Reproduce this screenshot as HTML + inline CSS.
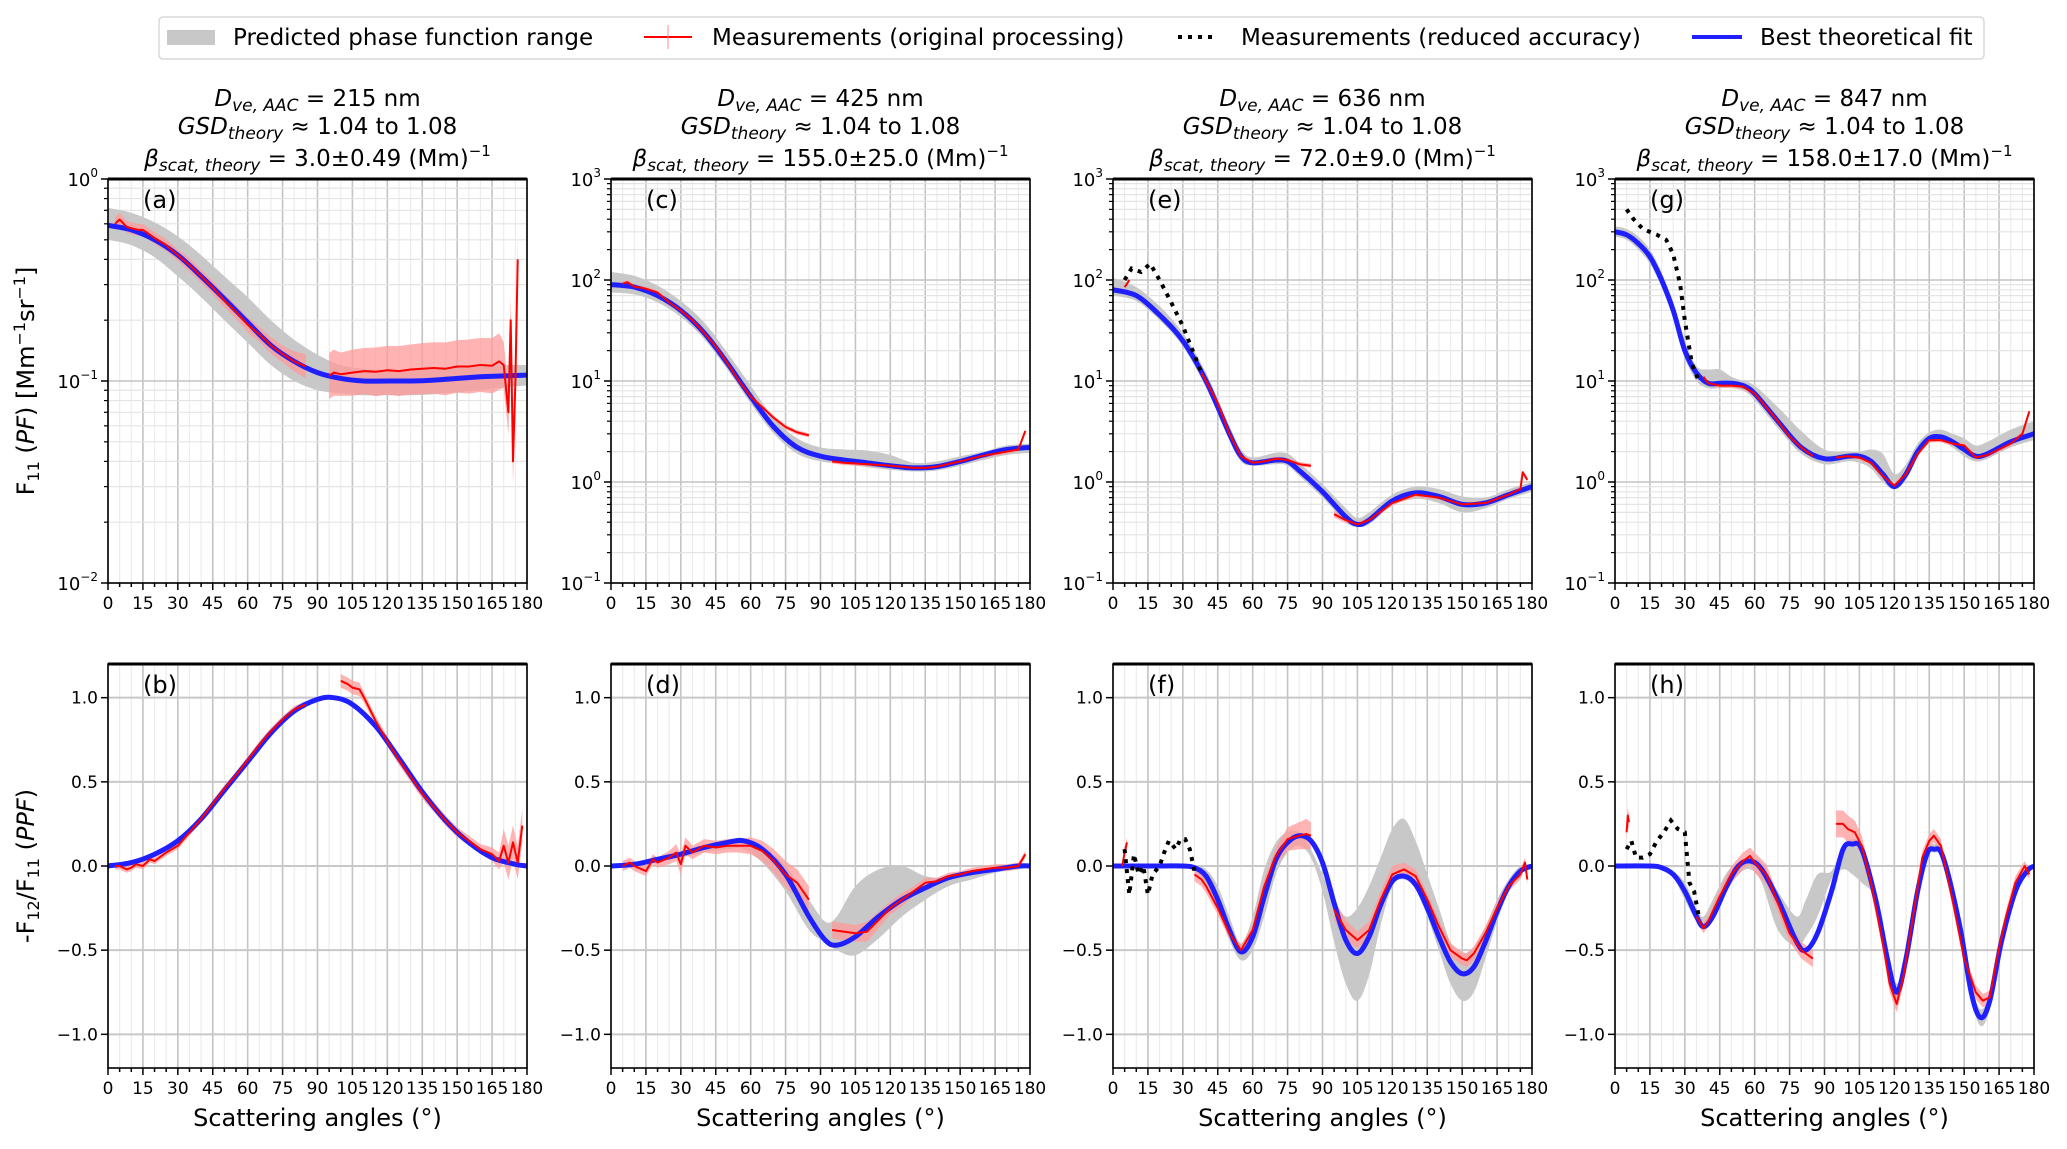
<!DOCTYPE html>
<html><head><meta charset="utf-8">
<style>
html,body{margin:0;padding:0;background:#fff;}
svg{display:block;font-family:"DejaVu Sans","Liberation Sans",sans-serif;}
</style></head>
<body>
<svg id="fig" width="2067" height="1149" viewBox="0 0 2067 1149" xmlns="http://www.w3.org/2000/svg">
<g>
<rect x="159" y="17" width="1825" height="42" rx="4" fill="#fff" stroke="#d8d8d8" stroke-width="1.5"/>
<rect x="167" y="30" width="48" height="15" fill="#c8c8c8"/>
<text x="233" y="45" font-size="23">Predicted phase function range</text>
<line x1="644" y1="37" x2="692" y2="37" stroke="#f00" stroke-width="2"/>
<line x1="668" y1="25" x2="668" y2="49" stroke="#f88" stroke-width="1"/>
<text x="712" y="45" font-size="23">Measurements (original processing)</text>
<line x1="1178" y1="37" x2="1217" y2="37" stroke="#000" stroke-width="4" stroke-dasharray="4,6"/>
<text x="1241" y="45" font-size="23">Measurements (reduced accuracy)</text>
<line x1="1692" y1="37" x2="1742" y2="37" stroke="#1f1fff" stroke-width="4"/>
<text x="1760" y="45" font-size="23">Best theoretical fit</text>
</g>
<text transform="translate(34,381) rotate(-90)" text-anchor="middle" font-size="24">F<tspan font-size="16" dy="5">11</tspan><tspan dy="-5"> (</tspan><tspan font-style="italic">PF</tspan>) [Mm<tspan font-size="16" dy="-9">−1</tspan><tspan dy="9">sr</tspan><tspan font-size="16" dy="-9">−1</tspan><tspan dy="9">]</tspan></text>
<text transform="translate(34,866) rotate(-90)" text-anchor="middle" font-size="24">-F<tspan font-size="16" dy="5">12</tspan><tspan dy="-5">/F</tspan><tspan font-size="16" dy="5">11</tspan><tspan dy="-5"> (</tspan><tspan font-style="italic">PPF</tspan>)</text>
</svg>
<script>
// ---------- data ----------
const panelLetters = ["a","c","e","g","b","d","f","h"];
const titleD = ["215","425","636","847"];
const titleBeta = ["3.0±0.49","155.0±25.0","72.0±9.0","158.0±17.0"];
const topYMin = [0.01,0.1,0.1,0.1];
const topYMax = [1,1000,1000,1000];
const xTicks = [0,15,30,45,60,75,90,105,120,135,150,165,180];
const linYTicks = [-1.0,-0.5,0.0,0.5,1.0];

// panel (a)
const angA = [0,10,20,30,40,50,60,70,80,90,100,110,120,130,140,150,160,170,180];
const fitA = [0.59,0.56,0.50,0.42,0.33,0.255,0.195,0.15,0.125,0.11,0.103,0.1,0.1,0.1,0.101,0.103,0.105,0.106,0.107];
const loA = [0.5,0.47,0.41,0.33,0.26,0.2,0.155,0.12,0.1,0.09,0.087,0.085,0.085,0.085,0.086,0.088,0.09,0.093,0.095];
const hiA = [0.72,0.68,0.61,0.52,0.42,0.33,0.26,0.2,0.16,0.135,0.12,0.115,0.113,0.113,0.114,0.116,0.118,0.12,0.12];
const measA1Ang = [3,5,8,10,13,15,18,20,25,30,35,40,45,50,55,60,65,70,75,80,85];
const measA1Val = [0.6,0.63,0.58,0.57,0.56,0.56,0.53,0.51,0.47,0.42,0.375,0.33,0.29,0.25,0.22,0.19,0.17,0.15,0.136,0.125,0.118];
const measA1Err = [0.08,0.08,0.07,0.07,0.07,0.07,0.07,0.07,0.07,0.07,0.08,0.08,0.08,0.08,0.08,0.09,0.09,0.1,0.1,0.12,0.15];
const measA2Ang = [95,97,100,105,110,115,120,125,130,135,140,145,150,155,160,165,168,170,172,173,174,175,176];
const measA2Val = [0.106,0.11,0.108,0.11,0.112,0.111,0.113,0.112,0.114,0.115,0.116,0.115,0.118,0.118,0.12,0.119,0.125,0.12,0.07,0.2,0.04,0.1,0.4];
const measA2Err = [0.3,0.3,0.28,0.3,0.3,0.32,0.32,0.33,0.33,0.34,0.34,0.35,0.35,0.36,0.36,0.37,0.38,0.3,0.3,0.3,0.3,0.3,0.3];

// panel (c)
const angC = [0,10,20,30,40,50,60,70,80,90,100,110,120,130,140,150,160,170,180];
const fitC = [90,85,70,50,30,15,7,3.5,2.2,1.8,1.65,1.55,1.45,1.38,1.42,1.6,1.85,2.1,2.2];
const loC = [75,72,60,43,26,13,6,3,1.9,1.6,1.5,1.4,1.32,1.27,1.3,1.45,1.65,1.85,1.95];
const hiC = [120,110,88,62,38,19,9,4.3,2.7,2.2,2.1,2.05,1.85,1.55,1.6,1.8,2.0,2.3,2.4];
const measC1Ang = [5,7,10,15,20,25,30,35,40,45,50,55,60,65,70,75,80,85];
const measC1Val = [92,95,86,82,75,60,50,40,30,22,15,10,7,5.5,4.3,3.5,3.1,2.9];
const measC1Err = [0.05,0.05,0.05,0.05,0.05,0.05,0.05,0.05,0.05,0.05,0.05,0.05,0.05,0.05,0.05,0.05,0.05,0.05];
const measC2Ang = [95,100,110,120,130,135,140,150,160,170,175,178];
const measC2Val = [1.6,1.55,1.5,1.45,1.38,1.38,1.42,1.6,1.82,2.0,2.1,3.2];
const measC2Err = [0.05,0.05,0.05,0.05,0.05,0.05,0.05,0.05,0.05,0.05,0.05,0.05];

// panel (e)
const angE = [0,10,20,30,40,50,55,60,70,75,80,90,100,105,110,120,130,140,150,160,170,180];
const fitE = [80,70,45,25,10,3,1.8,1.55,1.65,1.6,1.3,0.8,0.45,0.38,0.42,0.65,0.78,0.72,0.6,0.62,0.75,0.9];
const loE = [70,62,40,22,8.5,2.6,1.6,1.45,1.5,1.45,1.15,0.7,0.4,0.36,0.38,0.58,0.68,0.62,0.5,0.55,0.68,0.8];
const hiE = [105,85,55,30,12,3.6,2.1,1.75,1.95,1.9,1.55,0.95,0.55,0.44,0.5,0.75,0.9,0.85,0.72,0.7,0.85,1.0];
const measE0Ang = [5,6,7];
const measE0Val = [85,92,100];
const measE0Err = [0.05,0.05,0.05];
const measE1Ang = [38,40,45,50,55,60,65,70,75,80,85];
const measE1Val = [12,10,6,3,1.8,1.55,1.6,1.7,1.65,1.5,1.45];
const measE1Err = [0.05,0.05,0.05,0.05,0.05,0.05,0.05,0.05,0.05,0.05,0.05];
const measE2Ang = [95,100,105,110,120,130,140,150,160,170,175,176,178];
const measE2Val = [0.48,0.42,0.38,0.42,0.62,0.75,0.7,0.6,0.62,0.75,0.85,1.25,1.05];
const measE2Err = [0.08,0.07,0.06,0.05,0.05,0.05,0.05,0.05,0.05,0.05,0.05,0.05,0.05];
const dotsEAng = [5,8,12,16,20,25,30,35,38];
const dotsEVal = [100,130,120,145,100,60,35,18,12];

// panel (g)
const angG = [0,5,10,15,20,25,30,35,40,45,50,55,60,70,80,90,100,105,110,115,120,125,130,135,140,145,150,155,160,170,180];
const fitG = [300,280,230,170,100,50,20,12,9.5,9.5,9.5,9,7.5,4,2.2,1.7,1.8,1.8,1.6,1.2,0.9,1.2,2,2.7,2.8,2.5,2.1,1.8,1.9,2.5,3];
const loG = [270,250,200,145,85,42,17,10,8.5,8.5,8.5,8,6.5,3.4,1.9,1.5,1.6,1.55,1.35,1.0,0.85,1.05,1.75,2.4,2.5,2.2,1.8,1.6,1.7,2.2,2.6];
const hiG = [340,320,270,200,120,60,25,14,13,13,11,10,9,5.5,3.2,2.1,2.0,2.0,2.1,1.9,1.2,1.5,2.4,3.1,3.3,3.0,2.7,2.3,2.5,3.3,4];
const measG1Ang = [38,40,45,50,55,60,65,70,75,80,85];
const measG1Val = [11,9.5,9,9,8.8,7.5,5.5,4,2.8,2.2,1.8];
const measG1Err = [0.05,0.05,0.05,0.05,0.05,0.05,0.05,0.05,0.05,0.05,0.05];
const measG2Ang = [95,100,105,110,115,120,125,130,135,140,145,150,155,160,170,175,178];
const measG2Val = [1.75,1.8,1.75,1.55,1.15,0.92,1.2,1.9,2.6,2.6,2.4,2.3,1.75,1.85,2.4,3,5];
const measG2Err = [0.05,0.05,0.05,0.05,0.05,0.05,0.05,0.05,0.05,0.05,0.05,0.05,0.05,0.05,0.05,0.05,0.05];
const dotsGAng = [5,8,12,18,22,25,28,30,33,36];
const dotsGVal = [500,400,320,280,250,180,90,40,15,10];

// panel (b)
const angB = [0,10,20,30,40,50,60,70,80,90,97,105,115,125,135,145,155,165,175,180];
const fitB = [0,0.02,0.07,0.15,0.28,0.45,0.62,0.79,0.92,0.99,1.0,0.96,0.83,0.64,0.44,0.27,0.14,0.05,0.01,0];
const loB = [-0.01,0.01,0.06,0.14,0.27,0.44,0.61,0.78,0.91,0.98,0.99,0.95,0.82,0.63,0.43,0.26,0.13,0.04,0,-0.01];
const hiB = [0.01,0.03,0.08,0.16,0.29,0.46,0.63,0.8,0.93,1.0,1.01,0.97,0.84,0.65,0.45,0.28,0.15,0.06,0.02,0.01];
const measB1Ang = [3,5,8,10,12,15,18,20,25,30,35,40,45,50,55,60,65,70,75,80,85];
const measB1Val = [0,0,-0.02,-0.01,0.01,0,0.04,0.03,0.08,0.12,0.2,0.28,0.37,0.46,0.54,0.63,0.72,0.8,0.87,0.93,0.96];
const measB1Err = [0.02,0.02,0.02,0.02,0.02,0.02,0.02,0.02,0.02,0.02,0.02,0.02,0.02,0.02,0.02,0.02,0.02,0.02,0.02,0.02,0.02];
const measB2Ang = [100,103,105,108,110,115,120,125,130,135,140,145,150,155,160,165,168,170,172,174,176,178];
const measB2Val = [1.1,1.08,1.06,1.05,1.0,0.86,0.74,0.63,0.53,0.43,0.35,0.27,0.2,0.15,0.1,0.07,0.03,0.12,0.02,0.14,0.02,0.24];
const measB2Err = [0.04,0.04,0.04,0.04,0.03,0.03,0.03,0.03,0.03,0.03,0.03,0.03,0.03,0.03,0.03,0.04,0.05,0.1,0.1,0.1,0.1,0.1];

// panel (d)
const angD = [0,10,20,30,40,50,57,65,75,85,92,97,105,115,125,135,145,155,165,175,180];
const fitD = [0,0.01,0.04,0.07,0.11,0.14,0.15,0.1,-0.05,-0.3,-0.44,-0.47,-0.42,-0.3,-0.2,-0.13,-0.07,-0.04,-0.02,0,0];
const loD = [-0.01,0,0.03,0.05,0.08,0.1,0.1,0.02,-0.15,-0.38,-0.45,-0.5,-0.53,-0.43,-0.3,-0.2,-0.12,-0.08,-0.04,-0.02,-0.01];
const hiD = [0.01,0.02,0.05,0.08,0.12,0.15,0.16,0.12,0,-0.2,-0.33,-0.3,-0.12,-0.02,0,-0.06,-0.07,-0.04,-0.02,0,0.01];
const measD1Ang = [5,8,10,15,18,20,25,28,30,32,35,40,45,50,55,60,65,70,75,80,85];
const measD1Val = [0,0.02,0,-0.03,0.04,0.02,0.05,0.08,0.01,0.12,0.08,0.12,0.11,0.12,0.12,0.12,0.09,0.03,-0.05,-0.1,-0.2];
const measD1Err = [0.03,0.03,0.03,0.03,0.03,0.03,0.04,0.05,0.06,0.05,0.04,0.04,0.04,0.04,0.04,0.05,0.06,0.07,0.08,0.08,0.08];
const measD2Ang = [95,100,105,110,115,120,125,130,135,140,145,150,155,160,165,170,175,178];
const measD2Val = [-0.38,-0.39,-0.4,-0.39,-0.32,-0.25,-0.2,-0.15,-0.1,-0.09,-0.06,-0.05,-0.03,-0.02,-0.01,-0.01,0,0.07];
const measD2Err = [0.05,0.05,0.05,0.06,0.05,0.04,0.04,0.03,0.03,0.02,0.02,0.02,0.02,0.02,0.02,0.02,0.02,0.02];

// panel (f)
const angF = [0,20,30,35,40,45,50,55,60,65,70,75,80,85,90,95,100,105,110,115,120,125,130,135,140,145,150,155,160,165,170,175,180];
const fitF = [0,0,0,-0.01,-0.06,-0.2,-0.38,-0.51,-0.42,-0.18,0.04,0.14,0.18,0.15,0.02,-0.22,-0.44,-0.52,-0.42,-0.23,-0.09,-0.06,-0.11,-0.25,-0.42,-0.57,-0.64,-0.6,-0.45,-0.27,-0.12,-0.03,0];
const loF = [-0.01,-0.01,-0.01,-0.03,-0.1,-0.26,-0.44,-0.56,-0.5,-0.3,-0.05,0.08,0.12,0.05,-0.15,-0.45,-0.7,-0.8,-0.65,-0.35,-0.12,-0.08,-0.14,-0.3,-0.5,-0.7,-0.8,-0.75,-0.55,-0.33,-0.15,-0.05,-0.01];
const hiF = [0.01,0.01,0.01,0,-0.02,-0.12,-0.3,-0.46,-0.3,-0.02,0.14,0.2,0.2,0.1,-0.05,-0.2,-0.3,-0.25,-0.12,0.05,0.22,0.28,0.15,-0.05,-0.25,-0.45,-0.52,-0.48,-0.36,-0.2,-0.08,0,0.01];
const measF0Ang = [4,5,6];
const measF0Val = [0.0,0.08,0.14];
const measF0Err = [0.03,0.03,0.03];
const measF1Ang = [35,38,40,45,50,55,60,65,70,75,80,83,85];
const measF1Val = [-0.05,-0.08,-0.12,-0.25,-0.4,-0.5,-0.38,-0.12,0.06,0.16,0.18,0.19,0.18];
const measF1Err = [0.04,0.04,0.04,0.04,0.03,0.03,0.03,0.04,0.05,0.07,0.08,0.09,0.08];
const measF2Ang = [95,100,105,110,115,120,125,130,135,140,145,150,152,155,160,165,170,175,177,178];
const measF2Val = [-0.26,-0.38,-0.44,-0.38,-0.2,-0.05,-0.02,-0.06,-0.2,-0.36,-0.5,-0.55,-0.56,-0.52,-0.4,-0.25,-0.12,-0.05,0.02,-0.08];
const measF2Err = [0.06,0.06,0.05,0.05,0.05,0.05,0.04,0.04,0.04,0.04,0.04,0.04,0.04,0.04,0.04,0.04,0.03,0.03,0.03,0.03];
const dotsFAng = [5,7,9,11,13,15,17,20,22,24,27,29,31,33,35,37];
const dotsFVal = [0.1,-0.17,0.07,-0.05,0,-0.17,-0.05,0,0.08,0.15,0.1,0.16,0.16,0.1,-0.03,-0.05];

// panel (h)
const angH = [0,15,20,25,30,35,38,42,48,53,58,63,70,78,82,87,93,98,102,106,112,117,121,125,130,134,137,141,148,153,157,161,166,172,177,180];
const fitH = [0,0,-0.01,-0.05,-0.15,-0.3,-0.36,-0.3,-0.12,0.0,0.03,-0.02,-0.2,-0.45,-0.5,-0.4,-0.15,0.1,0.13,0.1,-0.2,-0.55,-0.75,-0.55,-0.15,0.07,0.1,0.05,-0.35,-0.75,-0.9,-0.8,-0.45,-0.15,-0.03,0];
const loH = [-0.01,-0.01,-0.02,-0.07,-0.2,-0.33,-0.36,-0.28,-0.15,-0.05,-0.02,-0.1,-0.38,-0.48,-0.42,-0.3,-0.08,-0.02,-0.05,-0.1,-0.2,-0.55,-0.78,-0.55,-0.12,0.06,0.08,0.03,-0.38,-0.78,-0.95,-0.85,-0.5,-0.18,-0.04,-0.01];
const hiH = [0.01,0.01,0,-0.03,-0.1,-0.25,-0.3,-0.2,-0.04,0.02,0.04,0.02,-0.15,-0.3,-0.2,-0.05,-0.03,0.12,0.16,0.12,-0.15,-0.48,-0.7,-0.5,-0.1,0.09,0.13,0.08,-0.3,-0.7,-0.85,-0.75,-0.4,-0.12,-0.02,0.01];
const measH0Ang = [5,5.5,6];
const measH0Val = [0.2,0.3,0.26];
const measH0Err = [0.05,0.05,0.05];
const measH1Ang = [35,38,40,45,50,55,58,60,65,70,75,80,85];
const measH1Val = [-0.3,-0.37,-0.33,-0.18,-0.05,0.03,0.06,0.02,-0.05,-0.22,-0.4,-0.5,-0.55];
const measH1Err = [0.03,0.03,0.03,0.04,0.05,0.05,0.05,0.06,0.06,0.05,0.05,0.05,0.05];
const measH2Ang = [95,98,100,103,106,110,115,118,121,124,128,132,135,137,140,145,150,155,158,161,164,168,172,176,178];
const measH2Val = [0.25,0.25,0.22,0.2,0.12,-0.1,-0.45,-0.7,-0.82,-0.65,-0.3,0.05,0.15,0.18,0.12,-0.2,-0.55,-0.75,-0.8,-0.78,-0.55,-0.3,-0.1,0,-0.05];
const measH2Err = [0.08,0.08,0.08,0.07,0.06,0.05,0.05,0.05,0.05,0.05,0.05,0.04,0.04,0.04,0.04,0.04,0.04,0.04,0.04,0.04,0.04,0.04,0.04,0.03,0.03];
const dotsHAng = [5,7,9,12,15,18,21,24,27,30,32,34,36];
const dotsHVal = [0.1,0.15,0.05,0.05,0.07,0.15,0.2,0.27,0.22,0.2,-0.1,-0.15,-0.3];

// ---------- layout ----------
const NS = "http://www.w3.org/2000/svg";
const svg = document.getElementById("fig");
const LEFTS = [108,611,1113,1615];
const PW = 419;
const TOPS = [179,664];
const PH = 404;

function mk(tag, attrs, parent){
  const e = document.createElementNS(NS, tag);
  for (const k in attrs) e.setAttribute(k, attrs[k]);
  (parent||svg).appendChild(e);
  return e;
}
function smoothPath(pts){
  if (pts.length<2) return "";
  let d = "M"+pts[0][0].toFixed(1)+","+pts[0][1].toFixed(1);
  for (let i=0;i<pts.length-1;i++){
    const p0=pts[Math.max(0,i-1)], p1=pts[i], p2=pts[i+1], p3=pts[Math.min(pts.length-1,i+2)];
    const c1x=p1[0]+(p2[0]-p0[0])/6, c1y=p1[1]+(p2[1]-p0[1])/6;
    const c2x=p2[0]-(p3[0]-p1[0])/6, c2y=p2[1]-(p3[1]-p1[1])/6;
    d += " C"+c1x.toFixed(1)+","+c1y.toFixed(1)+" "+c2x.toFixed(1)+","+c2y.toFixed(1)+" "+p2[0].toFixed(1)+","+p2[1].toFixed(1);
  }
  return d;
}
function polyPath(pts){
  return pts.map((p,i)=>(i?"L":"M")+p[0].toFixed(1)+","+p[1].toFixed(1)).join(" ");
}

function drawPanel(idx){
  const col = idx%4, row = idx<4?0:1;
  const L = LEFTS[col], T = TOPS[row];
  const g = mk("g",{});
  
  
  const xs = a => L + a/180*PW;
  let ys;
  if (row===0){
    const lmin = Math.log10(topYMin[col]), lmax = Math.log10(topYMax[col]);
    ys = v => T + (lmax - Math.log10(Math.max(v,1e-6)))/(lmax-lmin)*PH;
  } else {
    ys = v => T + (1.2 - v)/2.4*PH;
  }
  const grid = mk("g",{},g);
  
  
  for (let a=0;a<=180;a+=5){
    const major = a%15===0;
    mk("line",{x1:xs(a),x2:xs(a),y1:T,y2:T+PH,stroke:major?"#c4c4c4":"#ececec","stroke-width":major?1.6:1.2},grid);
  }
  if (row===0){
    const lmin = Math.log10(topYMin[col]), lmax = Math.log10(topYMax[col]);
    for (let e=lmin;e<lmax;e++){
      for (let m=2;m<=9;m++) mk("line",{x1:L,x2:L+PW,y1:ys(m*Math.pow(10,e)),y2:ys(m*Math.pow(10,e)),stroke:"#e4e4e4","stroke-width":1.2},grid);
    }
    for (let e=lmin;e<=lmax;e++) mk("line",{x1:L,x2:L+PW,y1:ys(Math.pow(10,e)),y2:ys(Math.pow(10,e)),stroke:"#c4c4c4","stroke-width":1.6},grid);
  } else {
    linYTicks.forEach(v=>mk("line",{x1:L,x2:L+PW,y1:ys(v),y2:ys(v),stroke:"#c8c8c8","stroke-width":2},grid));
  }
  const cid = "clip"+idx;
  const cp = mk("clipPath",{id:cid},g);
  mk("rect",{x:L,y:T,width:PW,height:PH},cp);
  const plot = mk("g",{"clip-path":"url(#"+cid+")"},g);

  const sets = [
    [angA,fitA,loA,hiA,[[measA1Ang,measA1Val,measA1Err],[measA2Ang,measA2Val,measA2Err]],null],
    [angC,fitC,loC,hiC,[[measC1Ang,measC1Val,measC1Err],[measC2Ang,measC2Val,measC2Err]],null],
    [angE,fitE,loE,hiE,[[measE0Ang,measE0Val,measE0Err],[measE1Ang,measE1Val,measE1Err],[measE2Ang,measE2Val,measE2Err]],[dotsEAng,dotsEVal]],
    [angG,fitG,loG,hiG,[[measG1Ang,measG1Val,measG1Err],[measG2Ang,measG2Val,measG2Err]],[dotsGAng,dotsGVal]],
    [angB,fitB,loB,hiB,[[measB1Ang,measB1Val,measB1Err],[measB2Ang,measB2Val,measB2Err]],null],
    [angD,fitD,loD,hiD,[[measD1Ang,measD1Val,measD1Err],[measD2Ang,measD2Val,measD2Err]],null],
    [angF,fitF,loF,hiF,[[measF0Ang,measF0Val,measF0Err],[measF1Ang,measF1Val,measF1Err],[measF2Ang,measF2Val,measF2Err]],[dotsFAng,dotsFVal]],
    [angH,fitH,loH,hiH,[[measH0Ang,measH0Val,measH0Err],[measH1Ang,measH1Val,measH1Err],[measH2Ang,measH2Val,measH2Err]],[dotsHAng,dotsHVal]]
  ];
  const [ang,fit,lo,hi,meas,dots] = sets[idx];
  const up = ang.map((a,i)=>[xs(a),ys(hi[i])]);
  const dn = ang.map((a,i)=>[xs(a),ys(lo[i])]).reverse();
  const bandD = smoothPath(up) + " L" + smoothPath(dn).slice(1) + " Z";
  const band = mk("path",{d:bandD,fill:"#c8c8c8",stroke:"none"},plot);
  
  
  meas.forEach(s=>{
    const [ma,mv,me] = s;
    const errUp = ma.map((a,i)=>[xs(a), row===0 ? ys(mv[i]*(1+me[i])) : ys(mv[i]+me[i])]);
    const errDn = ma.map((a,i)=>[xs(a), row===0 ? ys(mv[i]/(1+me[i])) : ys(mv[i]-me[i])]).reverse();
    const eb = mk("path",{d:polyPath(errUp)+" L"+polyPath(errDn).slice(1)+" Z",fill:"#ff9a9a","fill-opacity":0.75,stroke:"none"},plot);
    
    
  });
  const fitPath = mk("path",{d:smoothPath(ang.map((a,i)=>[xs(a),ys(fit[i])])),fill:"none",stroke:"#1f1fff","stroke-width":5,"stroke-linejoin":"round"},plot);
  
  
  meas.forEach(s=>{
    const [ma,mv] = s;
    const ml = mk("path",{d:polyPath(ma.map((a,i)=>[xs(a),ys(mv[i])])),fill:"none",stroke:"#ff0000","stroke-width":2,"stroke-linejoin":"round"},plot);
    
    
  });
  if (dots){
    const dl = mk("path",{d:polyPath(dots[0].map((a,i)=>[xs(a),ys(dots[1][i])])),fill:"none",stroke:"#000","stroke-width":4,"stroke-dasharray":"4,6"},plot);
    
    
  }
  const sp = mk("rect",{x:L,y:T,width:PW,height:PH,fill:"none",stroke:"#000","stroke-width":1.6},g);
  
  
  mk("line",{x1:L,x2:L+PW,y1:T,y2:T,stroke:"#000","stroke-width":3},g);
  for (let a=0;a<=180;a+=5){
    const major = a%15===0;
    mk("line",{x1:xs(a),x2:xs(a),y1:T+PH,y2:T+PH+(major?7:4),stroke:"#000","stroke-width":1.5},g);
  }
  xTicks.forEach(a=>{
    const t = mk("text",{x:xs(a),y:T+PH+26,"text-anchor":"middle","font-size":17},g);
    t.textContent = a;
    
    
  });
  if (row===0){
    const lmin = Math.log10(topYMin[col]), lmax = Math.log10(topYMax[col]);
    for (let e=lmin;e<lmax;e++) for (let m=2;m<=9;m++){
      const y=ys(m*Math.pow(10,e));
      mk("line",{x1:L-4,x2:L,y1:y,y2:y,stroke:"#000","stroke-width":1.2},g);
    }
    for (let e=lmin;e<=lmax;e++){
      const y = ys(Math.pow(10,e));
      mk("line",{x1:L-7,x2:L,y1:y,y2:y,stroke:"#000","stroke-width":1.5},g);
      const t = mk("text",{x:L-10,y:y+7,"text-anchor":"end","font-size":18},g);
      
      
      const s1 = mk("tspan",{},t); s1.textContent="10";
      const s2 = mk("tspan",{"font-size":12,dy:-9},t); s2.textContent = e<0 ? "−"+(-e) : String(e);
    }
  } else {
    linYTicks.forEach(v=>{
      const y=ys(v);
      mk("line",{x1:L-7,x2:L,y1:y,y2:y,stroke:"#000","stroke-width":1.5},g);
      const t = mk("text",{x:L-10,y:y+6,"text-anchor":"end","font-size":17},g);
      t.textContent = (v<0?"−":"")+Math.abs(v).toFixed(1);
      
      
    });
    const xl = mk("text",{x:L+PW/2,y:1126,"text-anchor":"middle","font-size":24},g);
    xl.textContent = "Scattering angles (°)";
    
    
  }
  const lt = mk("text",{x:L+35,y:T+29,"font-size":24},g);
  lt.textContent = "("+panelLetters[idx]+")";
  
  
  if (row===0){
    const cx = L+PW/2;
    const tg = mk("g",{"font-size":23,"text-anchor":"middle"},g);
    
    
    const t1 = mk("text",{x:cx,y:106},tg);
    t1.innerHTML = '<tspan font-style="italic">D</tspan><tspan font-style="italic" font-size="17" dy="5">ve, AAC</tspan><tspan dy="-5"> = '+titleD[col]+' nm</tspan>';
    const t2 = mk("text",{x:cx,y:134},tg);
    t2.innerHTML = '<tspan font-style="italic">GSD</tspan><tspan font-style="italic" font-size="17" dy="5">theory</tspan><tspan dy="-5"> ≈ 1.04 to 1.08</tspan>';
    const t3 = mk("text",{x:cx,y:166},tg);
    t3.innerHTML = '<tspan font-style="italic">β</tspan><tspan font-style="italic" font-size="17" dy="5">scat, theory</tspan><tspan dy="-5"> = '+titleBeta[col]+' (Mm)</tspan><tspan font-size="15" dy="-10">−1</tspan>';
  }
}
for (let i=0;i<8;i++) drawPanel(i);
</script>
</body></html>
